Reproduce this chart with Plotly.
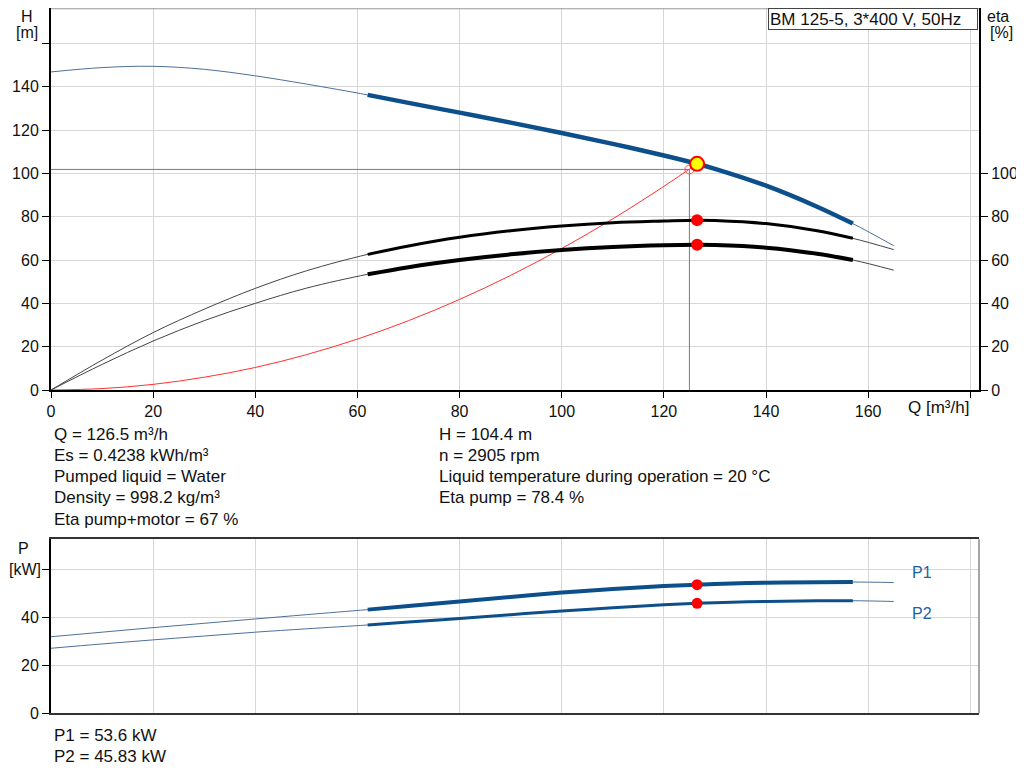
import plotly.graph_objects as go

# pump curve points, Q in m³/h
q = [0, 10, 20, 30, 40, 50, 62, 70, 80, 90, 100, 110, 120, 126.5, 130, 140, 150, 157, 165]
head = [146.8, 148.8, 149.4, 148.0, 145.0, 141.2, 136.2, 132.5, 128.0, 123.4, 118.6, 113.6,
        108.2, 104.4, 102.1, 94.3, 84.6, 76.8, 66.6]
eta_pump = [0, 13.8, 26.5, 37.3, 46.9, 55.0, 62.6, 66.5, 70.5, 73.5, 75.7, 77.2,
            78.0, 78.4, 78.25, 76.8, 73.5, 70.0, 64.8]
eta_total = [0, 11.8, 22.6, 32.0, 40.0, 47.0, 53.4, 56.7, 60.0, 62.6, 64.6, 66.0,
             66.8, 67.0, 66.9, 65.7, 62.9, 60.0, 55.3]
p1 = [31.9, 33.8, 35.7, 37.5, 39.3, 41.1, 43.2, 44.7, 46.6, 48.5, 50.3, 51.8,
      53.0, 53.6, 53.9, 54.4, 54.65, 54.7, 54.5]
p2 = [27.1, 28.9, 30.6, 32.2, 33.8, 35.2, 36.8, 38.0, 39.5, 41.1, 42.6, 44.0,
      45.2, 45.83, 46.1, 46.6, 46.85, 46.9, 46.6]

# system curve
q_sys = [0, 10, 20, 30, 40, 50, 60, 70, 80, 90, 100, 110, 120, 126.5]
h_sys = [0, 0.65, 2.6, 5.9, 10.4, 16.3, 23.5, 32.0, 41.8, 52.9, 65.3, 79.0, 94.0, 104.4]

# duty point (requested) and actual operating point
q_req, h_req = 125, 101.8
q_op, h_op = 126.5, 104.4
eta_pump_op, eta_total_op = 78.4, 67
p1_op, p2_op = 53.6, 45.83

# bold part of the curves = recommended range
q_lo, q_hi = 62, 157

info_left = ["Q = 126.5 m³/h", "Es = 0.4238 kWh/m³", "Pumped liquid = Water",
             "Density = 998.2 kg/m³", "Eta pump+motor = 67 %"]
info_right = ["H = 104.4 m", "n = 2905 rpm", "Liquid temperature during operation = 20 °C",
              "Eta pump = 78.4 %"]
info_power = ["P1 = 53.6 kW", "P2 = 45.83 kW"]
title = "BM 125-5, 3*400 V, 50Hz"

FONT = "Liberation Sans, Arial, sans-serif"
BLUE = "#0d4f8b"
# the page puts the figure 8px in from the corner, so size it to fit the window
OFF = 8
FW, FH = 1024 - OFF, 781 - OFF

def px(sx):
    return (sx - OFF) / FW

def py(sy):
    return 1 - (sy - OFF) / FH

sel = [i for i in range(len(q)) if q_lo <= q[i] <= q_hi]
def part(v):
    return [v[i] for i in sel]

fig = go.Figure()

def line(x, y, color, width, xa="x", ya="y"):
    fig.add_trace(go.Scatter(x=x, y=y, mode="lines", xaxis=xa, yaxis=ya,
                             line=dict(color=color, width=width, shape="spline"),
                             hoverinfo="skip"))

def dots(x, y, xa="x", ya="y", size=12, color="red", lc="red", lw=0):
    fig.add_trace(go.Scatter(x=x, y=y, mode="markers", xaxis=xa, yaxis=ya,
                             marker=dict(size=size, color=color, line=dict(color=lc, width=lw)),
                             hoverinfo="skip"))

# duty lines
fig.add_trace(go.Scatter(x=[0, q_req, q_req], y=[h_req, h_req, 0], mode="lines",
                         line=dict(color="#7a7a7a", width=1), hoverinfo="skip"))
line(q_sys, h_sys, "#ff3030", 1)

line(q, head, "#4d6f99", 1)
line(part(q), part(head), BLUE, 4.5)
line(q, eta_pump, "#444444", 1, ya="y2")
line(part(q), part(eta_pump), "black", 3, ya="y2")
line(q, eta_total, "#444444", 1, ya="y2")
line(part(q), part(eta_total), "black", 4, ya="y2")

dots([q_req], [h_req], size=9, color="rgba(0,0,0,0)", lc="#ff5050", lw=1)
dots([q_op], [eta_pump_op], ya="y2")
dots([q_op], [eta_total_op], ya="y2")
dots([q_op], [h_op], size=14, color="#ffff00", lc="red", lw=2)

line(q, p1, "#4d6f99", 1, xa="x2", ya="y3")
line(part(q), part(p1), BLUE, 4, xa="x2", ya="y3")
line(q, p2, "#4d6f99", 1, xa="x2", ya="y3")
line(part(q), part(p2), BLUE, 3, xa="x2", ya="y3")
dots([q_op], [p1_op], xa="x2", ya="y3", size=11)
dots([q_op], [p2_op], xa="x2", ya="y3", size=11)

xdom = [px(51), px(979)]
grid = "#d6d6d6"
qticks = list(range(0, 181, 20))
axfont = dict(family=FONT, size=16, color="#111")
h_top = (390 - OFF) / 2.1667   # head value at the top edge of the upper plot

fig.update_layout(
    width=FW, height=FH, margin=dict(l=0, r=0, t=0, b=0),
    paper_bgcolor="white", plot_bgcolor="white", showlegend=False,
    font=axfont,
    xaxis=dict(domain=xdom, range=[0, 181.7], anchor="y", tickmode="array", tickvals=qticks,
               ticktext=[str(t) if t < 180 else "" for t in qticks], ticks="outside",
               ticklen=6, tickcolor="black", showline=True, linecolor="black", linewidth=2,
               showgrid=True, gridcolor=grid, zeroline=False, tickfont=axfont, automargin=False),
    yaxis=dict(domain=[py(390), 1], range=[0, h_top], anchor="x", tickmode="array",
               tickvals=list(range(0, 161, 20)),
               ticktext=[str(t) if t < 160 else "" for t in range(0, 161, 20)],
               ticks="outside", ticklen=7, tickcolor="black", showline=True, linecolor="black",
               linewidth=2, showgrid=True, gridcolor=grid, zeroline=False, tickfont=axfont,
               automargin=False),
    yaxis2=dict(overlaying="y", side="right", anchor="x", range=[0, h_top], tickmode="array",
                tickvals=list(range(0, 101, 20)), ticks="outside", ticklen=7, tickcolor="black",
                showline=True, linecolor="black", linewidth=2, showgrid=False, zeroline=False,
                tickfont=axfont, automargin=False),
    xaxis2=dict(domain=xdom, range=[0, 181.7], anchor="y3", tickmode="array", tickvals=qticks,
                showticklabels=False, ticks="", showline=True, mirror=True, linecolor="#333",
                linewidth=1.5, showgrid=True, gridcolor=grid, zeroline=False, automargin=False),
    yaxis3=dict(domain=[py(713.3), py(539.3)], range=[0, 72.5], anchor="x2",
                tickmode="array", tickvals=[0, 20, 40, 60], ticktext=["0", "20", "40", ""],
                ticks="outside", ticklen=7, tickcolor="black", showline=True, linecolor="black",
                linewidth=2, showgrid=True, gridcolor=grid, zeroline=False, tickfont=axfont,
                automargin=False),
)

fig.add_shape(type="line", xref="x domain", yref="y domain", x0=0, x1=1, y0=0.998, y1=0.998,
              line=dict(color="#999", width=1))
fig.add_shape(type="line", xref="x2 domain", yref="y3 domain", x0=1, x1=1, y0=0, y1=1,
              line=dict(color="#888", width=1.5))

def note(text, x, y, xanchor="left", color="#111", size=17, **kw):
    fig.add_annotation(text=text, x=px(x), y=py(y), xref="paper", yref="paper",
                       xanchor=xanchor, yanchor="middle", showarrow=False,
                       font=dict(family=FONT, size=size, color=color), **kw)

note("H", 27, 16, "center", size=16)
note("[m]", 27, 33, "center", size=16)
note("eta", 998, 16, "center", size=16)
note("[%]", 1001, 33, "center", size=16)
note("Q [m³/h]", 971, 407, "right")
note("P", 23, 548, "center", size=16)
note("[kW]", 25, 569, "center", size=16)
note("P1", 910, 572, color="#1f5fa6", size=16)
note("P2", 910, 613, color="#1f5fa6", size=16)

for i, t in enumerate(info_left):
    note(t, 52, 434 + i * 21.3)
for i, t in enumerate(info_right):
    note(t, 437, 434 + i * 21.3)
for i, t in enumerate(info_power):
    note(t, 52, 735 + i * 21.3)

fig.add_annotation(text=title, x=px(978), y=1.0, xref="paper", yref="paper",
                   xanchor="right", yanchor="top", showarrow=False, align="left",
                   width=206, height=18, borderpad=1, bordercolor="#444", borderwidth=1,
                   bgcolor="white", font=dict(family=FONT, size=17, color="#111"))

fig.write_html("out.html")
